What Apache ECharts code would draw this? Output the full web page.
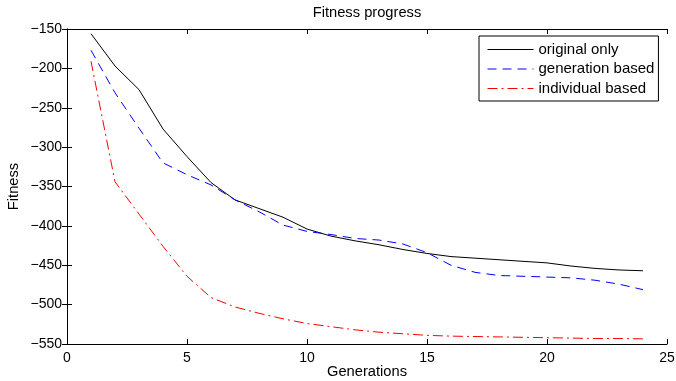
<!DOCTYPE html>
<html>
<head>
<meta charset="utf-8">
<script src="https://cdn.jsdelivr.net/npm/echarts@6/dist/echarts.min.js"></script>
<style>
  html, body { margin: 0; padding: 0; background: #fff; }
  #chart { width: 676px; height: 381px; }
</style>
</head>
<body>
<div id="chart"></div>
<script>
const generations = [1, 2, 3, 4, 5, 6, 7, 8, 9, 10, 11, 12, 13, 14, 15, 16, 17, 18, 19, 20, 21, 22, 23, 24];

const originalOnly = [-156, -197, -227, -277, -312, -345, -367, -378, -389, -404, -413, -419,
  -424, -430, -435, -439, -441, -443, -445, -447, -451, -454, -456, -457];

const generationBased = [-177, -231, -276, -320, -335, -348, -367, -382, -399, -407, -411, -416,
  -418, -423, -434, -450, -459, -463, -464, -465, -466, -469, -474, -481];

const individualBased = [-191, -344, -385, -426, -464, -491, -503, -511, -518, -524, -528, -532,
  -535, -537, -539, -540, -540.5, -541, -541.5, -542, -542.5, -543, -543, -543.5];

const seriesNames = ['original only', 'generation based', 'individual based'];

const FONT = 'Liberation Sans, Arial, Helvetica, sans-serif';

const chart = echarts.init(document.getElementById('chart'), null, { renderer: 'canvas' });

const pair = (ys) => generations.map((x, i) => [x, ys[i]]);
const minus = (v) => (v < 0 ? '\u2212' + Math.abs(v) : String(v));

const tickStyle = { show: true, inside: true, length: 5, lineStyle: { color: '#000', width: 1 } };
const lineStyle = { show: true, lineStyle: { color: '#000', width: 1 } };

const option = {
  backgroundColor: '#fff',
  animation: false,
  textStyle: { fontFamily: FONT },
  title: {
    text: 'Fitness progress',
    left: 362,
    top: 0,
    textAlign: 'center',
    textStyle: { fontFamily: FONT, fontSize: 14.7, fontWeight: 'normal', color: '#000' }
  },
  legend: {
    orient: 'vertical',
    left: 479,
    top: 36,
    padding: [6, 4, 5, 8],
    itemWidth: 46,
    itemHeight: 14,
    itemGap: 4.5,
    borderColor: '#000',
    borderWidth: 1,
    backgroundColor: '#fff',
    itemStyle: { opacity: 0 },
    lineStyle: { width: 1 },
    textStyle: { fontFamily: FONT, fontSize: 15, lineHeight: 14, color: '#000' },
    data: seriesNames
  },
  grid: { left: 67, top: 29, width: 600, height: 315, containLabel: false, outerBoundsMode: 'none' },
  xAxis: [
    {
      type: 'value', min: 0, max: 25, interval: 5,
      name: 'Generations', nameLocation: 'middle', nameGap: 20, nameMoveOverlap: false,
      nameTextStyle: { fontFamily: FONT, fontSize: 14.7, color: '#000' },
      axisLine: lineStyle, axisTick: tickStyle, splitLine: { show: false },
      axisLabel: { color: '#000', fontSize: 14, fontFamily: FONT, margin: 7 }
    },
    {
      type: 'value', min: 0, max: 25, interval: 5, position: 'top',
      axisLine: lineStyle, axisTick: tickStyle, splitLine: { show: false },
      axisLabel: { show: false }
    }
  ],
  yAxis: [
    {
      type: 'value', min: -550, max: -150, interval: 50,
      name: 'Fitness', nameLocation: 'middle', nameGap: 46, nameMoveOverlap: false,
      nameTextStyle: { fontFamily: FONT, fontSize: 14.7, color: '#000' },
      axisLine: lineStyle, axisTick: tickStyle, splitLine: { show: false },
      axisLabel: { color: '#000', fontSize: 14, fontFamily: FONT, margin: 5, formatter: minus }
    },
    {
      type: 'value', min: -550, max: -150, interval: 50, position: 'right',
      axisLine: lineStyle, axisTick: tickStyle, splitLine: { show: false },
      axisLabel: { show: false }
    }
  ],
  series: [
    {
      name: seriesNames[0], type: 'line', data: pair(originalOnly),
      symbol: 'none', color: '#000',
      lineStyle: { color: '#000', width: 1, type: 'solid' }
    },
    {
      name: seriesNames[1], type: 'line', data: pair(generationBased),
      symbol: 'none', color: '#0000ff',
      lineStyle: { color: '#0000ff', width: 1, type: [9, 6] }
    },
    {
      name: seriesNames[2], type: 'line', data: pair(individualBased),
      symbol: 'none', color: '#ff0000',
      lineStyle: { color: '#ff0000', width: 1, type: [10, 4, 2, 4] }
    }
  ]
};

chart.setOption(option);
</script>
</body>
</html>
